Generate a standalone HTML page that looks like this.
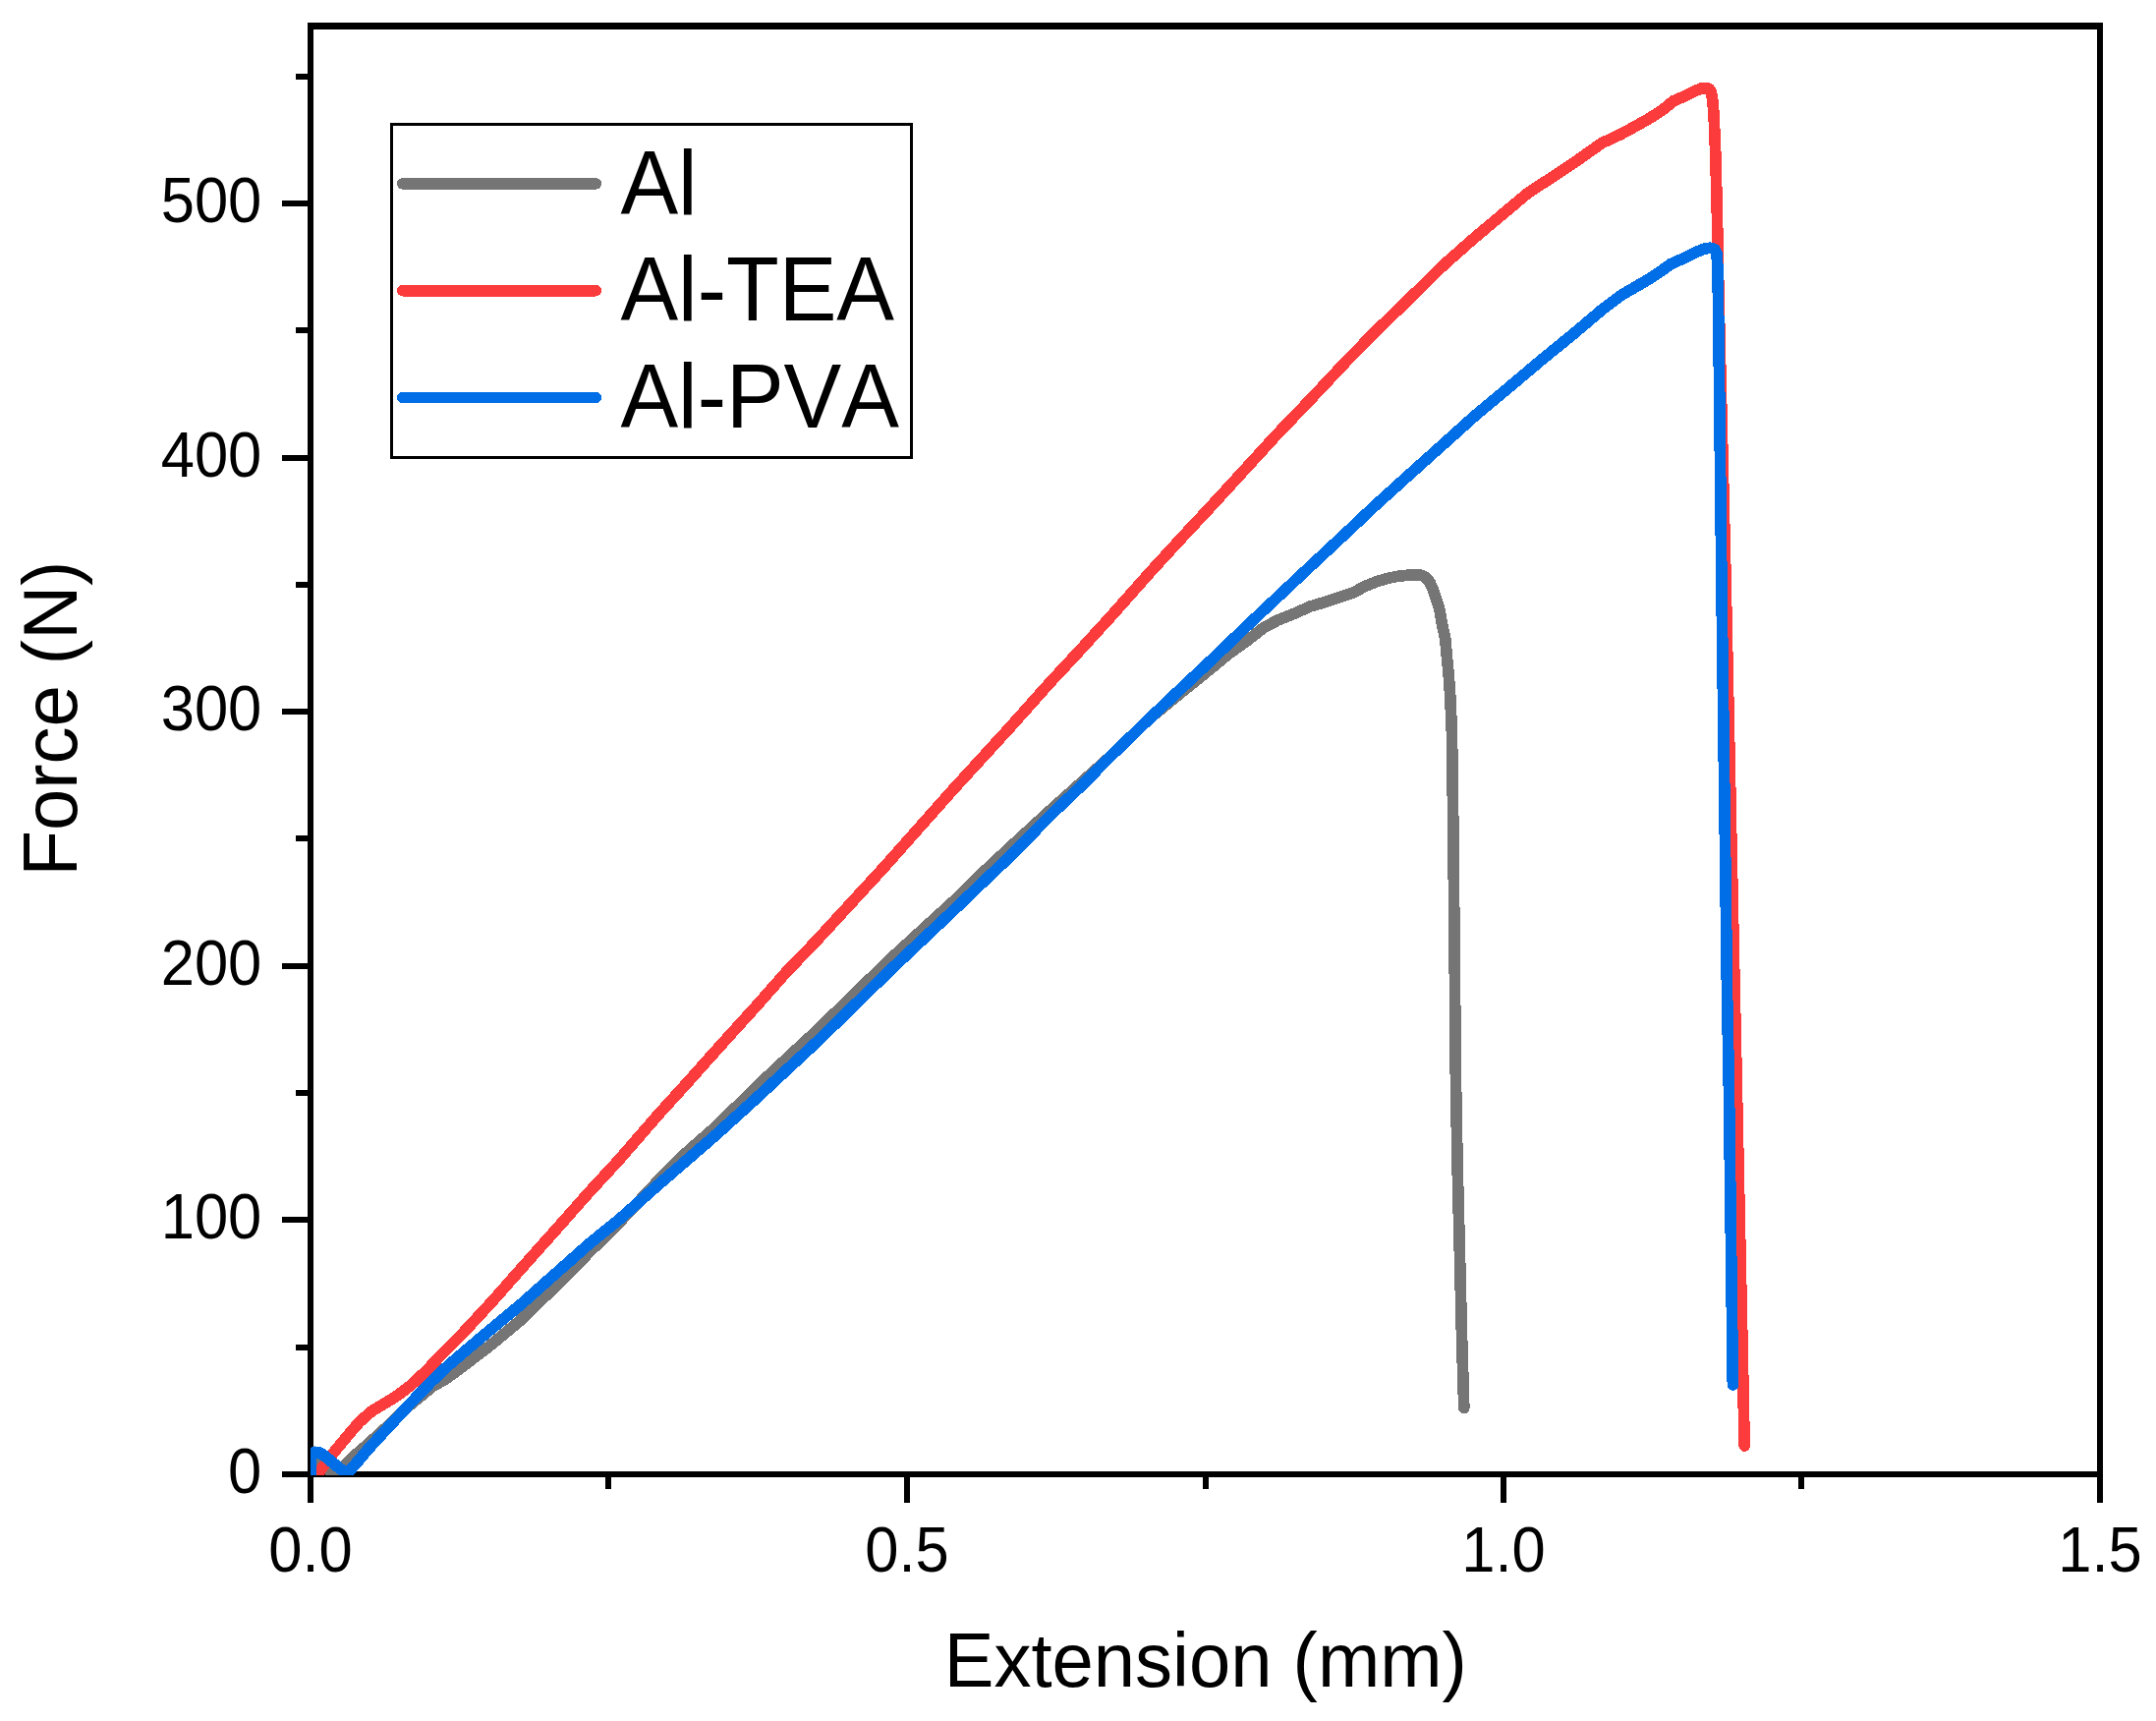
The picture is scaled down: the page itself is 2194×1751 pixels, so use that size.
<!DOCTYPE html>
<html lang="en"><head><meta charset="utf-8"><title>Force vs Extension</title>
<style>
html,body{margin:0;padding:0;background:#fff}
body{width:2194px;height:1751px;overflow:hidden}
svg{display:block}
text{font-family:"Liberation Sans",sans-serif;fill:#000;font-kerning:none}
.tk{font-size:61.5px}
.ti{font-size:76px}
.lg{font-size:88px}
.ax{fill:#000;shape-rendering:crispEdges}
.cv{fill:none;shape-rendering:crispEdges;stroke-width:11.7;stroke-linejoin:round;stroke-linecap:round}
</style></head><body>
<svg width="2194" height="1751" viewBox="0 0 2194 1751">
<defs><clipPath id="cp"><rect x="316" y="27" width="1821" height="1474"/></clipPath></defs>
<rect width="2194" height="1751" fill="#fff"/>

<g class="ax">
<rect x="313" y="23" width="1827" height="7"/>
<rect x="313" y="1497" width="1827" height="6"/>
<rect x="313" y="23" width="6" height="1480"/>
<rect x="2134" y="23" width="6" height="1480"/>
<rect x="287" y="1497" width="27" height="6"/>
<rect x="301" y="1368" width="13" height="6"/>
<rect x="287" y="1238" width="27" height="6"/>
<rect x="301" y="1109" width="13" height="6"/>
<rect x="287" y="980" width="27" height="6"/>
<rect x="301" y="850" width="13" height="6"/>
<rect x="287" y="721" width="27" height="6"/>
<rect x="301" y="592" width="13" height="6"/>
<rect x="287" y="463" width="27" height="6"/>
<rect x="301" y="333" width="13" height="6"/>
<rect x="287" y="204" width="27" height="6"/>
<rect x="301" y="75" width="13" height="6"/>
<rect x="313" y="1502" width="6" height="27"/>
<rect x="616" y="1502" width="6" height="13"/>
<rect x="920" y="1502" width="6" height="27"/>
<rect x="1224" y="1502" width="6" height="13"/>
<rect x="1527" y="1502" width="6" height="27"/>
<rect x="1830" y="1502" width="6" height="13"/>
<rect x="2134" y="1502" width="6" height="27"/>
</g>
<g class="tk">
<text transform="translate(266.3 1519.0) scale(1 1.063)" text-anchor="end">0</text>
<text transform="translate(266.3 1260.4) scale(1 1.063)" text-anchor="end">100</text>
<text transform="translate(266.3 1001.8) scale(1 1.063)" text-anchor="end">200</text>
<text transform="translate(266.3 743.2) scale(1 1.063)" text-anchor="end">300</text>
<text transform="translate(266.3 484.6) scale(1 1.063)" text-anchor="end">400</text>
<text transform="translate(266.3 226.0) scale(1 1.063)" text-anchor="end">500</text>
<text transform="translate(316.0 1598.5) scale(1 1.063)" text-anchor="middle">0.0</text>
<text transform="translate(923.0 1598.5) scale(1 1.063)" text-anchor="middle">0.5</text>
<text transform="translate(1530.0 1598.5) scale(1 1.063)" text-anchor="middle">1.0</text>
<text transform="translate(2137.0 1598.5) scale(1 1.063)" text-anchor="middle">1.5</text>
</g>
<text class="ti" transform="translate(1226.8 1715.8) scale(1 1.022)" text-anchor="middle">Extension (mm)</text>
<text class="ti" transform="translate(77.9 731.1) rotate(-90) scale(1 1.022)" text-anchor="middle">Force (N)</text>
<g class="cv" clip-path="url(#cp)">
<polyline stroke="#757575" points="316.0,1489.0 326.0,1490.5 338.0,1498.0 344.0,1497.5 352.0,1489.5 360.0,1481.8 371.0,1472.3 387.0,1457.9 400.0,1446.0 416.0,1430.6 440.0,1410.7 453.0,1403.4 470.0,1391.0 500.0,1368.0 530.0,1343.0 570.0,1304.2 600.0,1273.7 630.0,1244.0 650.0,1222.5 670.0,1201.0 700.0,1171.3 730.0,1145.1 770.0,1105.5 800.0,1077.5 830.0,1049.7 907.2,974.7 970.0,917.3 1000.0,888.0 1030.0,860.0 1070.0,823.4 1100.0,796.5 1130.0,769.6 1170.0,730.9 1200.0,706.2 1230.0,682.0 1250.0,665.5 1270.0,651.2 1286.0,638.5 1300.0,631.2 1316.7,624.4 1333.5,617.0 1350.2,612.0 1366.9,606.4 1378.1,602.5 1389.3,596.3 1400.4,591.9 1411.6,588.5 1422.7,586.3 1433.9,585.0 1445.0,585.0 1450.1,586.9 1455.1,592.4 1458.4,600.2 1461.8,610.3 1464.9,620.3 1467.4,634.8 1470.7,649.3 1472.4,668.3 1474.1,685.0 1475.7,707.4 1477.4,744.2 1478.7,832.5 1480.1,965.0 1481.4,1097.4 1483.1,1185.8 1485.4,1274.1 1487.6,1362.4 1489.8,1432.5"/>
<polyline stroke="#FC3C3C" points="320.0,1505.0 322.6,1500.9 330.0,1490.3 339.2,1478.4 347.7,1468.1 358.1,1455.6 365.8,1446.8 378.3,1435.7 388.8,1429.5 404.1,1420.1 418.4,1409.2 434.8,1393.8 446.9,1380.7 470.0,1357.5 500.0,1325.1 530.0,1291.2 570.0,1246.3 600.0,1212.5 630.0,1180.0 670.0,1133.9 700.0,1100.9 730.0,1067.3 770.0,1023.2 800.0,989.2 830.0,958.1 900.0,882.0 970.0,803.2 1000.0,770.5 1030.0,737.6 1070.0,692.8 1100.0,660.6 1130.0,627.7 1170.0,582.7 1200.0,549.9 1230.0,517.8 1270.0,474.2 1300.0,441.4 1330.0,410.2 1370.0,367.7 1400.0,337.0 1430.0,308.1 1470.0,268.8 1500.0,242.4 1530.0,217.2 1555.0,196.3 1570.0,186.5 1600.0,166.8 1630.0,145.6 1650.0,136.3 1664.0,128.6 1677.9,120.8 1691.9,111.9 1703.0,102.7 1711.4,99.1 1722.6,93.5 1730.9,90.1 1736.0,89.6 1739.5,90.5 1741.5,94.0 1742.8,101.9 1744.0,115.8 1745.8,157.7 1747.3,213.5 1748.9,297.2 1750.9,380.0 1756.3,600.0 1765.3,1015.0 1767.2,1100.0 1775.2,1471.0"/>
<polyline stroke="#006EE6" points="316.3,1506.0 316.3,1485.0 317.5,1480.0 320.5,1477.3 325.0,1478.0 330.0,1481.0 336.0,1486.0 345.0,1493.5 353.3,1499.6 358.5,1493.2 363.5,1487.6 375.3,1473.7 388.1,1459.7 401.0,1445.8 413.6,1432.2 426.5,1418.5 439.7,1405.0 452.6,1392.5 470.0,1377.4 500.0,1352.1 530.0,1327.2 570.0,1291.7 600.0,1265.1 630.0,1240.8 670.0,1205.3 700.0,1179.5 730.0,1153.4 770.0,1117.1 800.0,1089.1 830.0,1061.3 907.2,985.9 970.0,926.6 1000.0,897.8 1030.0,869.3 1070.0,828.4 1100.0,799.9 1130.0,769.6 1170.0,730.9 1200.0,702.4 1230.0,674.2 1270.0,635.8 1300.0,607.6 1330.0,579.4 1370.0,542.1 1400.0,513.8 1430.0,486.7 1470.0,450.8 1500.0,423.8 1530.0,398.8 1570.0,365.1 1600.0,340.7 1630.0,315.3 1650.0,300.2 1677.9,284.1 1691.9,274.7 1700.2,268.7 1711.4,263.7 1725.3,256.7 1733.7,253.4 1740.0,252.3 1744.5,253.5 1746.8,257.0 1747.5,265.0 1748.0,275.0 1748.4,300.0 1749.4,376.1 1752.0,600.0 1757.6,1015.0 1759.3,1100.0 1763.2,1393.0 1763.4,1409.0"/>
</g>
<rect x="398.5" y="126.5" width="529" height="339" fill="#fff" stroke="#000" stroke-width="3" shape-rendering="crispEdges"/>
<line class="cv" x1="409.8" y1="186.9" x2="606.2" y2="186.9" stroke="#757575"/>
<text class="lg" transform="translate(631.4 217.8) scale(1 1.052)">Al</text>
<line class="cv" x1="409.8" y1="295.7" x2="606.2" y2="295.7" stroke="#FC3C3C"/>
<text class="lg" transform="translate(631.4 326.4) scale(1 1.052)">Al-TEA</text>
<line class="cv" x1="409.8" y1="404.5" x2="606.2" y2="404.5" stroke="#006EE6"/>
<text class="lg" transform="translate(631.4 435.0) scale(1 1.052)">Al-PVA</text>
</svg></body></html>
